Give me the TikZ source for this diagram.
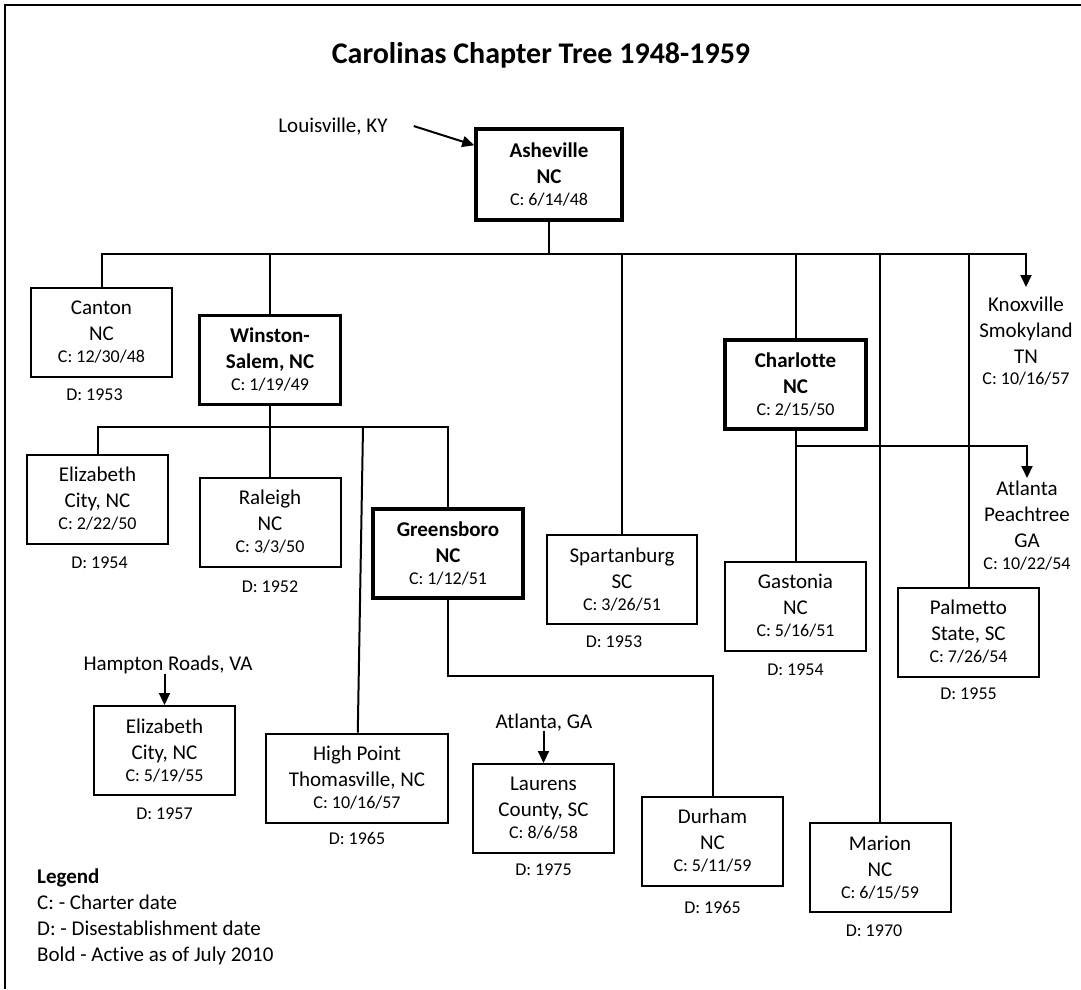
\documentclass[tikz,border=0pt]{standalone}
\usepackage{fontspec}
\setmainfont{Carlito}[Ligatures=CommonOff]
\usetikzlibrary{positioning, arrows.meta}
\newcommand{\bodyfont}{\fontsize{21}{26}\selectfont}
\newcommand{\datefont}{\fontsize{18}{22}\selectfont\mdseries}
\tikzstyle{chapter} = [rectangle, draw=black, line width=2pt, minimum width=141pt, minimum height=89pt, inner sep=0pt, text centered, align=center, font=\bodyfont, execute at begin node={\rule{0pt}{22pt}}]
\tikzstyle{active} = [chapter, line width=3.5pt, font=\bodyfont\bfseries]
\tikzstyle{city} = [inner sep=0pt, align=center, font=\bodyfont]
\tikzstyle{dnote} = [inner sep=0pt, font=\datefont]
\tikzstyle{line} = [line width=2pt]
\tikzstyle{arrow} = [line, -{Triangle[length=12pt, width=11pt]}]

\begin{document}
\begin{tikzpicture}[x=1pt, y=-1pt]
        \useasboundingbox (0,0) rectangle (1081,989);
        \draw [line width=2.5pt] (5,989) -- (5,5) -- (1081,5);
        \node (title) [anchor=base, font=\fontsize{30}{36}\selectfont\bfseries] at (541,63) {Carolinas Chapter Tree 1948-1959};

        % chapters
        \node (asheville) [active, minimum width=146pt, minimum height=91pt] at (549,174.5) {Asheville\\NC\\[-4pt]{\datefont C: 6/14/48}};
        \node (canton) [chapter] at (101.5,332.5) {Canton\\NC\\[-4pt]{\datefont C: 12/30/48}};
        \node (winston) [active] at (270,360) {Winston-\\Salem, NC\\[-4pt]{\datefont C: 1/19/49}};
        \node (ec1) [chapter] at (97.5,499) {Elizabeth\\City, NC\\[-4pt]{\datefont C: 2/22/50}};
        \node (raleigh) [chapter] at (270,522) {Raleigh\\NC\\[-4pt]{\datefont C: 3/3/50}};
        \node (greensboro) [active, minimum width=150pt] at (448,553.5) {Greensboro\\NC\\[-4pt]{\datefont C: 1/12/51}};
        \node (ec2) [chapter] at (164.5,750.5) {Elizabeth\\City, NC\\[-4pt]{\datefont C: 5/19/55}};
        \node (highpoint) [chapter, minimum width=182pt] at (357,778) {High Point\\Thomasville, NC\\[-4pt]{\datefont C: 10/16/57}};
        \node (laurens) [chapter] at (543.5,808.5) {Laurens\\County, SC\\[-4pt]{\datefont C: 8/6/58}};
        \node (durham) [chapter] at (712.5,841) {Durham\\NC\\[-4pt]{\datefont C: 5/11/59}};
        \node (spartanburg) [chapter, minimum width=150pt] at (622,579.5) {Spartanburg\\SC\\[-4pt]{\datefont C: 3/26/51}};
        \node (charlotte) [active] at (795.5,384.5) {Charlotte\\NC\\[-4pt]{\datefont C: 2/15/50}};
        \node (gastonia) [chapter] at (795.5,606) {Gastonia\\NC\\[-4pt]{\datefont C: 5/16/51}};
        \node (marion) [chapter] at (880,867.5) {Marion\\NC\\[-4pt]{\datefont C: 6/15/59}};
        \node (palmetto) [chapter] at (968.5,632) {Palmetto\\State, SC\\[-4pt]{\datefont C: 7/26/54}};

        % disestablishment dates
        \node (canton-d) [dnote, below=11pt of canton, xshift=-7pt] {D: 1953};
        \node (ec1-d) [dnote, below=12pt of ec1, xshift=2pt] {D: 1954};
        \node (raleigh-d) [dnote, below=13pt of raleigh] {D: 1952};
        \node (ec2-d) [dnote, below=12pt of ec2] {D: 1957};
        \node (highpoint-d) [dnote, below=9pt of highpoint] {D: 1965};
        \node (laurens-d) [dnote, below=10pt of laurens] {D: 1975};
        \node (durham-d) [dnote, below=15pt of durham] {D: 1965};
        \node (spartanburg-d) [dnote, below=11pt of spartanburg, xshift=-8pt] {D: 1953};
        \node (gastonia-d) [dnote, below=12pt of gastonia] {D: 1954};
        \node (marion-d) [dnote, below=12pt of marion, xshift=-6pt] {D: 1970};
        \node (palmetto-d) [dnote, below=10pt of palmetto] {D: 1955};

        % other chapters
        \node (louisville) [city, anchor=base] at (333,132) {Louisville, KY};
        \node (knoxville) [city, anchor=north] at (1026,297) {Knoxville\\Smokyland\\TN\\[-5pt]{\datefont C: 10/16/57}};
        \node (peachtree) [city, anchor=north] at (1027,481) {Atlanta\\Peachtree\\GA\\[-4pt]{\datefont C: 10/22/54}};
        \node (hampton) [city, anchor=base] at (168,670) {Hampton Roads, VA};
        \node (atlanta) [city, anchor=base] at (544,728) {Atlanta, GA};
        \node (legend) [city, align=left, anchor=north west] at (37,869) {\textbf{Legend}\\C: - Charter date\\D: - Disestablishment date\\Bold - Active as of July 2010};

        \coordinate (bus) at (549,254);
        \coordinate (knox-bus) at (1026,254);
        \coordinate (gb-bus) at (448,427);
        \coordinate (hp-bus) at (363,427);
        \coordinate (gb-turn) at (448,676);
        \coordinate (ch-branch) at (795.5,446);

        \draw [line] (asheville) -- (bus);
        \draw [arrow] (canton) |- (knox-bus) -- ([yshift=10pt]knoxville.north);
        \draw [line] (winston) -- (winston |- bus);
        \draw [line] (spartanburg) -- (spartanburg |- bus);
        \draw [line] (charlotte) -- (charlotte |- bus);
        \draw [line] (marion) -- (marion |- bus);
        \draw [line] (palmetto) -- (palmetto |- bus);
        \draw [line] (ec1) |- (gb-bus) -- (greensboro);
        \draw [line] (winston) -- (raleigh);
        \draw [line] (hp-bus) -- (highpoint);
        \draw [line] (greensboro) -- (gb-turn) -| (durham);
        \draw [line] (charlotte) -- (gastonia);
        \draw [arrow] (ch-branch) -| ([yshift=3pt]peachtree.north);
        \draw [arrow] ([xshift=26pt]louisville.east) -- ([yshift=-18pt]asheville.north west);
        \draw [arrow] (hampton.south -| ec2) -- (ec2);
        \draw [arrow] (atlanta.south -| laurens) -- (laurens);
    \end{tikzpicture}
\end{document}
